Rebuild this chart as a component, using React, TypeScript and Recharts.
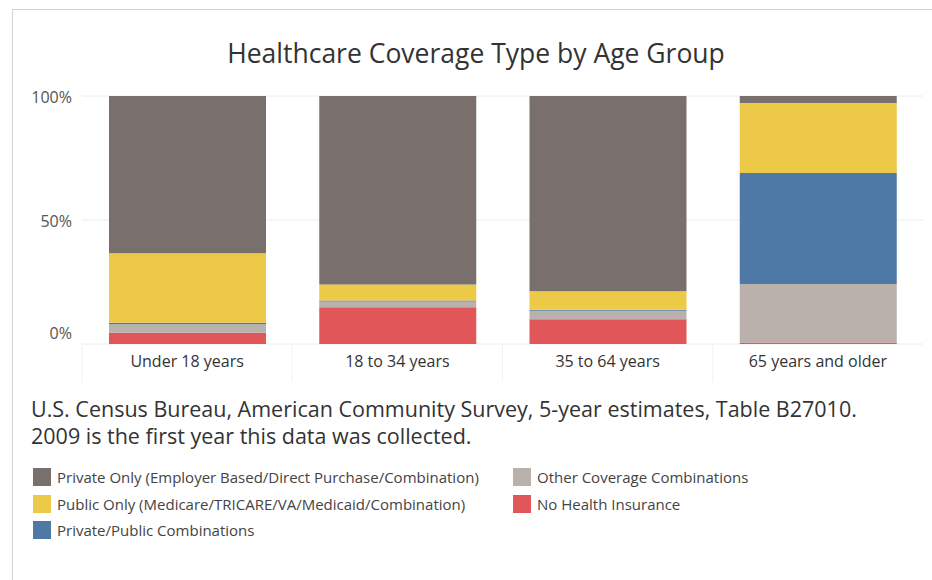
import React from "react";
import { BarChart, Bar, XAxis, YAxis, CartesianGrid } from "recharts";

const categories = ["Under 18 years", "18 to 34 years", "35 to 64 years", "65 years and older"];
const noInsurance = [4.5, 14.8, 10.0, 0.6];
const otherCoverage = [3.5, 2.3, 3.4, 23.6];
const privatePublic = [0.6, 0.4, 0.4, 44.8];
const publicOnly = [28.0, 6.5, 7.5, 28.2];
const privateOnly = [63.4, 76.0, 78.7, 2.8];
const yTicks = [0, 50, 100];

const seriesMeta = [
  { key: "noInsurance", name: "No Health Insurance", color: "#E15759" },
  { key: "otherCoverage", name: "Other Coverage Combinations", color: "#BAB0AC" },
  { key: "privatePublic", name: "Private/Public Combinations", color: "#4E79A7" },
  { key: "publicOnly", name: "Public Only (Medicare/TRICARE/VA/Medicaid/Combination)", color: "#EDC948" },
  { key: "privateOnly", name: "Private Only (Employer Based/Direct Purchase/Combination)", color: "#79706E" },
];

const data = categories.map((c, i) => ({
  category: c,
  noInsurance: noInsurance[i],
  otherCoverage: otherCoverage[i],
  privatePublic: privatePublic[i],
  publicOnly: publicOnly[i],
  privateOnly: privateOnly[i],
}));

const FONT = "'Open Sans', 'Noto Sans', sans-serif";

const YTick = (props: any) => {
  const { x, y, payload } = props;
  const dy = payload.value === 0 ? -11 : 1.5;
  return (
    <text x={x - 2} y={y + dy} dy="0.35em" textAnchor="end" fontFamily={FONT} fontSize={16} fill="#555">
      {payload.value}%
    </text>
  );
};

const XTick = (props: any) => {
  const { x, y, payload } = props;
  const off = payload.offset || 0;
  return (
    <g>
      <line x1={x - off} x2={x - off} y1={y - 8} y2={y + 30} stroke="#f2f2f2" />
      <text x={x} y={y + 9} dy="0.35em" textAnchor="middle" fontFamily={FONT} fontSize={16} fill="#333">
        {payload.value}
      </text>
    </g>
  );
};

const legendOrder = [
  ["privateOnly", "otherCoverage"],
  ["publicOnly", "noInsurance"],
  ["privatePublic"],
];

const LegendBlock = () => (
  <div style={{ position: "absolute", top: 464, left: 33, fontFamily: FONT, fontSize: 15, color: "#444" }}>
    {legendOrder.map((row, ri) => (
      <div key={ri} style={{ display: "flex", height: 26.5, alignItems: "center" }}>
        {row.map((k) => {
          const m = seriesMeta.find((s) => s.key === k)!;
          return (
            <div key={k} style={{ display: "flex", alignItems: "center", width: 480, whiteSpace: "nowrap" }}>
              <div style={{ width: 18, height: 18, background: m.color, marginRight: 6, flex: "none" }} />
              <span>{m.name}</span>
            </div>
          );
        })}
      </div>
    ))}
  </div>
);

export default function App() {
  return (
    <div style={{ position: "fixed", top: 0, left: 0, width: 932, height: 580, background: "#fff", overflow: "hidden" }}>
      <div style={{ position: "absolute", top: 9, left: 12, width: 940, height: 600, borderTop: "1px solid #d4d4d4", borderLeft: "1px solid #d4d4d4" }} />
      <div style={{ position: "absolute", top: 35, left: 0, width: 952, textAlign: "center", fontFamily: FONT, fontSize: 26.5, color: "#333", whiteSpace: "nowrap" }}>
        Healthcare Coverage Type by Age Group
      </div>
      <div style={{ position: "absolute", top: 395, left: 31, fontFamily: FONT, fontSize: 21.5, color: "#333", lineHeight: "27px", whiteSpace: "nowrap" }}>
        <div>U.S. Census Bureau, American Community Survey, 5-year estimates, Table B27010.</div>
        <div>2009 is the first year this data was collected.</div>
      </div>
      <div style={{ position: "absolute", top: 0, left: 0 }}>
        <BarChart width={932} height={580} data={data} margin={{ top: 96, right: 9, bottom: 206, left: 0 }} barSize={157}>
          <CartesianGrid vertical={false} stroke="#ececec" />
          <XAxis dataKey="category" axisLine={false} tickLine={false} tick={<XTick />} interval={0} height={30} />
          <YAxis type="number" domain={[0, 100]} ticks={yTicks} width={82} axisLine={false} tickLine={false} tick={<YTick />} />
          {seriesMeta.map((s) => (
            <Bar key={s.key} dataKey={s.key} name={s.name} stackId="a" fill={s.color} isAnimationActive={false} />
          ))}
        </BarChart>
      </div>
      <LegendBlock />
    </div>
  );
}
